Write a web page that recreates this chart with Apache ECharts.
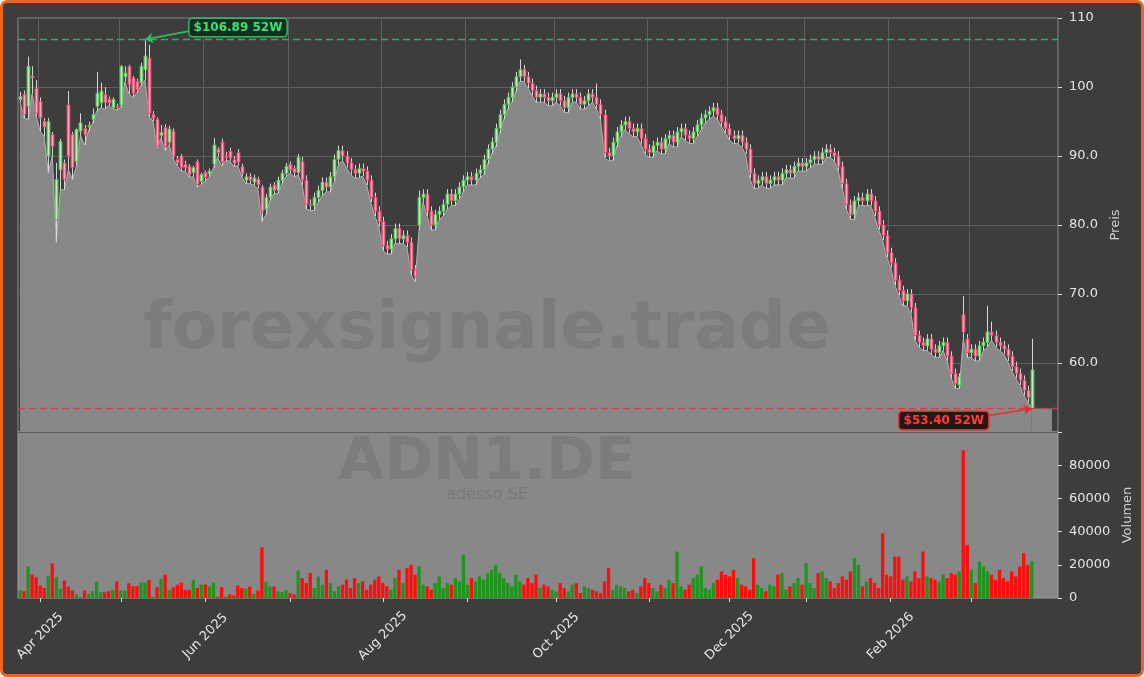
<!DOCTYPE html>
<html><head><meta charset="utf-8">
<script src="https://cdn.jsdelivr.net/npm/echarts@6/dist/echarts.min.js"></script>
<style>
html,body{margin:0;padding:0;background:#ffffff;}
#wrap{position:absolute;left:0;top:0;width:1144px;height:677px;box-sizing:border-box;border:3px solid #f0641a;border-radius:7px;background:#3d3d3d;overflow:hidden;}
#chart{position:absolute;left:-3px;top:-3px;width:1144px;height:677px;}
</style></head><body>
<div id="wrap"><div id="chart"></div></div>
<script>
const firstDay = '2025-03-25';
const xetraHolidays = ['2025-04-18','2025-04-21','2025-05-01','2025-12-24','2025-12-25','2025-12-26','2025-12-31','2026-01-01'];
const totalSlots = 258;
const monthNames = ['Jan','Feb','Mar','Apr','May','Jun','Jul','Aug','Sep','Oct','Nov','Dec'];
const priceTicks = [60, 70, 80, 90, 100, 110];
const volumeTicks = [0, 20000, 40000, 60000, 80000];
const high52 = 106.89, low52 = 53.40;

const opens = [98.2,98.9,97.2,101.6,99.8,97.9,95.0,90.0,93.1,80.8,
88.0,89.0,97.4,93.1,89.2,93.6,94.0,94.2,95.3,97.2,
97.7,98.9,98.2,97.0,97.2,97.4,101.5,103.0,101.3,100.8,
100.6,102.5,104.2,96.0,95.3,93.0,94.1,92.0,93.6,89.5,
90.0,88.8,88.5,87.6,89.2,86.3,87.6,87.4,88.8,91.0,
92.0,90.0,90.7,89.5,90.5,88.5,86.5,87.0,86.2,86.6,
85.5,82.3,84.0,85.8,85.0,86.5,87.5,88.8,88.2,87.6,
89.2,86.5,83.0,82.8,84.0,85.0,86.2,85.5,87.0,89.5,
90.8,90.0,89.0,88.0,87.5,88.2,87.8,86.5,84.0,82.0,
80.5,77.0,76.5,78.0,79.5,78.0,78.5,77.5,73.5,80.0,
84.0,84.5,82.0,80.0,81.5,82.0,83.0,84.5,83.5,84.5,
85.5,86.5,87.0,86.5,87.5,88.0,89.5,91.0,92.0,94.0,
96.0,97.5,98.5,100.0,101.5,102.5,101.5,100.5,99.5,98.5,
99.0,98.5,98.0,98.5,99.0,98.0,97.0,98.5,99.0,98.5,
97.5,98.0,99.0,98.5,97.5,96.0,90.5,90.0,92.0,93.5,
94.5,95.0,94.0,93.5,94.0,92.5,91.0,90.5,91.5,92.0,
91.0,92.5,93.0,92.0,93.5,94.0,93.0,92.5,93.5,94.5,
95.5,96.0,96.5,97.0,96.0,95.0,94.0,93.0,92.5,93.0,
92.0,91.0,87.5,86.0,86.5,87.0,86.0,86.5,87.0,86.5,
87.5,88.0,87.5,88.5,89.0,88.5,89.0,89.5,90.0,89.5,
90.5,91.0,90.5,90.0,88.5,86.0,83.0,81.5,83.5,84.0,
83.5,84.5,83.5,82.0,80.0,78.5,76.0,74.5,72.0,70.5,
69.0,70.0,68.0,64.0,63.0,62.5,63.5,62.0,61.5,62.5,
63.0,61.0,58.5,56.8,67.0,63.5,61.5,62.0,61.0,62.5,
63.0,64.5,64.0,63.0,62.5,62.0,61.0,59.5,58.5,57.5,
56.0,53.4];

const closes = [98.6,96.0,103.0,101.3,96.2,95.5,94.2,95.0,91.4,86.6,
92.1,86.6,90.0,88.3,93.8,94.8,93.1,94.4,96.0,99.1,
99.4,97.7,97.7,98.2,97.0,103.0,102.0,100.3,99.1,99.6,
103.0,104.5,96.2,95.5,91.4,93.4,91.4,93.9,90.0,89.0,
88.3,88.3,87.3,88.3,85.9,87.3,86.9,87.8,91.6,90.5,
89.1,89.8,89.7,88.9,89.1,87.5,87.0,86.5,86.8,85.8,
82.0,84.0,85.5,85.0,86.5,87.5,88.5,88.0,87.6,89.8,
86.5,83.0,82.8,84.0,85.0,86.2,85.5,87.0,89.5,90.8,
90.0,89.0,88.0,87.5,88.2,87.8,86.5,84.0,82.0,80.5,
77.0,76.5,78.0,79.5,78.0,78.5,77.5,73.5,72.5,84.0,
84.5,82.0,80.0,81.5,82.0,83.0,84.5,83.5,84.5,85.5,
86.5,87.0,86.5,87.5,88.0,89.5,91.0,92.0,94.0,96.0,
97.5,98.5,100.0,101.5,102.5,101.5,100.5,99.5,98.5,99.0,
98.5,98.0,98.5,99.0,98.0,97.0,98.5,99.0,98.5,97.5,
98.0,99.0,98.5,97.5,96.0,90.5,90.0,92.0,93.5,94.5,
95.0,94.0,93.5,94.0,92.5,91.0,90.5,91.5,92.0,91.0,
92.5,93.0,92.0,93.5,94.0,93.0,92.5,93.5,94.5,95.5,
96.0,96.5,97.0,96.0,95.0,94.0,93.0,92.5,93.0,92.0,
91.0,87.5,86.0,86.5,87.0,86.0,86.5,87.0,86.5,87.5,
88.0,87.5,88.5,89.0,88.5,89.0,89.5,90.0,89.5,90.5,
91.0,90.5,90.0,88.5,86.0,83.0,81.5,83.5,84.0,83.5,
84.5,83.5,82.0,80.0,78.5,76.0,74.5,72.0,70.5,69.0,
70.0,68.0,64.0,63.0,62.5,63.5,62.0,61.5,62.5,63.0,
61.0,58.5,57.0,58.0,64.5,61.5,62.0,61.0,62.5,63.0,
64.5,64.0,63.0,62.5,62.0,61.0,59.5,58.5,57.5,56.0,
55.0,59.0];

const highs = [99.3,99.5,104.4,103.0,101.0,98.5,95.5,95.5,93.5,89.0,
92.5,89.5,99.4,93.5,94.0,96.2,94.5,95.0,96.9,102.2,
100.6,100.0,98.6,98.5,97.6,103.2,103.0,103.2,101.6,101.2,
103.5,106.89,106.1,96.5,95.6,94.5,94.6,94.4,94.0,90.0,
90.3,89.3,88.8,88.6,89.5,87.6,87.9,88.2,92.6,91.3,
92.5,90.6,91.2,90.0,91.0,88.9,87.5,87.5,87.3,87.0,
85.8,84.5,86.0,86.2,87.0,88.0,89.0,89.2,88.6,90.3,
89.9,87.2,83.7,84.7,85.7,86.9,86.9,87.7,90.2,91.5,
91.5,90.7,89.7,88.7,88.9,88.9,88.5,87.2,84.7,82.7,
81.2,77.7,78.7,80.2,80.2,79.2,79.2,78.2,74.2,85.0,
85.2,85.2,82.7,82.2,82.7,83.7,85.2,85.2,85.2,86.2,
87.2,87.7,87.7,88.2,88.7,90.2,91.7,92.7,94.7,96.7,
98.2,99.2,100.7,102.2,104.0,103.2,102.2,101.2,100.2,99.7,
99.7,99.2,99.2,99.7,99.7,98.7,99.2,99.7,99.7,99.2,
98.7,99.7,99.7,100.5,98.2,96.7,91.2,92.7,94.2,95.2,
95.7,95.7,94.7,94.7,94.7,93.2,91.7,92.2,92.7,92.7,
93.2,93.7,93.7,94.2,94.7,94.7,93.7,94.2,95.2,96.2,
96.7,97.2,97.7,97.7,96.7,95.7,94.7,93.7,93.7,93.7,
92.7,91.7,88.2,87.2,87.7,87.7,87.2,87.7,87.7,88.2,
88.7,88.7,89.2,89.7,89.7,89.7,90.2,90.7,90.7,91.2,
91.7,91.7,91.2,90.7,89.2,86.7,83.7,84.2,84.7,84.7,
85.2,85.2,84.2,82.7,80.7,79.2,76.7,75.2,72.7,71.2,
70.7,70.7,68.7,64.7,63.7,64.2,64.2,62.7,63.2,63.7,
63.7,61.7,59.2,58.5,69.7,64.2,62.7,62.7,63.2,63.7,
68.3,66.0,64.7,63.7,63.2,62.7,61.7,60.2,59.2,58.2,
56.7,63.5];

const lows = [97.8,95.5,95.3,99.0,95.8,93.6,92.8,87.6,90.0,77.5,
85.1,85.1,88.0,86.6,88.5,93.0,91.6,93.6,94.8,96.5,
97.0,96.8,97.3,96.8,96.7,97.0,100.8,99.0,98.5,99.2,
100.2,101.0,95.8,95.0,91.2,92.6,90.8,91.6,89.6,88.6,
87.8,87.8,86.9,87.0,85.5,85.9,86.4,87.0,88.3,89.8,
88.6,89.3,89.3,88.5,88.6,87.0,86.0,86.0,85.8,85.3,
80.5,81.5,83.5,84.5,84.6,86.0,87.0,87.5,87.0,87.2,
85.8,82.3,82.1,82.1,83.3,84.3,84.8,84.8,86.3,88.8,
89.3,88.3,87.3,86.8,86.8,87.1,85.8,83.3,81.3,79.8,
76.3,75.8,75.8,77.3,77.3,77.3,76.8,72.8,71.8,79.3,
83.3,81.3,79.3,79.3,80.8,81.3,82.3,82.8,82.8,83.8,
84.8,85.8,85.8,85.8,86.8,87.3,88.8,90.3,91.3,93.3,
95.3,96.8,97.8,99.3,100.8,100.8,99.8,98.8,97.8,97.8,
97.8,97.3,97.3,97.8,97.3,96.3,96.3,97.8,97.8,96.8,
96.8,97.3,97.8,96.8,95.3,89.8,89.3,89.3,91.3,92.8,
93.8,93.3,92.8,92.8,91.8,90.3,89.8,89.8,90.8,90.3,
90.3,91.8,91.3,91.3,92.8,92.3,91.8,91.8,92.8,93.8,
94.8,95.3,95.8,95.3,94.3,93.3,92.3,91.8,91.8,91.3,
90.3,86.8,85.3,85.3,85.8,85.3,85.3,85.8,85.8,85.8,
86.8,86.8,86.8,87.8,87.8,87.8,88.3,88.8,88.8,88.8,
89.8,89.8,89.3,87.8,85.3,82.3,80.8,80.8,82.8,82.8,
82.8,82.8,81.3,79.3,77.8,75.3,73.8,71.3,69.8,68.3,
68.3,67.3,63.3,62.3,61.8,61.8,61.3,60.8,60.8,61.8,
60.3,57.8,56.3,56.3,63.5,60.8,60.8,60.3,60.3,61.8,
62.3,63.3,62.3,61.8,61.3,60.3,58.8,57.8,56.8,55.3,
54.3,53.4];

const volumes = [4500,4100,19000,14100,12500,7500,6100,13500,20900,12500,
5500,10500,6900,4500,2100,600,4500,2500,4100,9900,
3500,3500,4100,4900,9900,4500,4500,8900,7100,7100,
9300,9300,10900,600,6500,11500,14100,4900,6500,8100,
9300,4900,4900,10900,6100,8100,8100,6900,9300,600,
6500,600,2100,1500,7500,6100,5500,6900,2500,4500,
30500,9900,6900,6900,3900,3500,4900,2900,2100,16500,
12000,9000,15000,6000,13000,8000,17000,9000,4000,7000,
8000,11000,6000,12000,9000,10000,5000,8000,11000,13000,
9000,7000,5000,12000,17000,9000,18000,20000,14000,19000,
8000,7000,5000,9000,13000,6000,9000,8000,12000,10000,
26000,8000,12000,10000,13000,11000,15000,17000,20000,15000,
12000,9000,7000,14000,10000,8000,12000,9000,14000,6000,
8000,7000,5000,4000,9000,6000,4000,8000,9000,3000,
7000,6000,5000,4000,3000,10000,18000,5000,8000,7000,
6000,4000,5000,3000,7000,12000,9000,6000,4000,8000,
6000,11000,9000,28000,7000,5000,8000,12000,14000,19000,
6000,5000,9000,11000,16000,14000,13000,17000,12000,8000,
7000,5000,24000,8000,6000,4000,8000,7000,14000,15000,
5000,7000,9000,12000,8000,21000,9000,6000,15000,16000,
12000,10000,6000,9000,13000,11000,16000,24000,20000,7000,
10000,12000,9000,6000,39000,14000,13000,25000,25000,11000,
13000,10000,16000,12000,28000,13000,12000,11000,10000,14000,
12000,15000,14000,16000,89000,32000,17000,9000,22000,19000,
16000,14000,11000,17000,12000,10000,16000,13000,19000,27000,
20000,22000];

// trading-day categories
const dates = [];
{
  let t = Date.parse(firstDay + 'T00:00:00Z');
  while (dates.length < totalSlots) {
    const d = new Date(t);
    const wd = d.getUTCDay();
    const s = d.toISOString().slice(0, 10);
    if (wd !== 0 && wd !== 6 && xetraHolidays.indexOf(s) < 0) dates.push(s);
    t += 86400000;
  }
}
const isMonthStart = (i) => i > 0 && dates[i].slice(0, 7) !== dates[i - 1].slice(0, 7);
const isLabelMonth = (i) => isMonthStart(i) && (+dates[i].slice(5, 7)) % 2 === 0;
const fmtMonth = (v) => monthNames[+v.slice(5, 7) - 1] + ' ' + v.slice(0, 4);

const n = closes.length;
const candleData = closes.map((c, i) => [i, opens[i], c, lows[i], highs[i]]);
const lowLine = lows.map((l, i) => [i, l]);
const volData = volumes.map((v, i) => ({
  value: [i, v],
  itemStyle: { color: closes[i] >= opens[i] ? '#1f941f' : '#ff0d0d' }
}));
let hiIdx = 0, loIdx = 0;
highs.forEach((h, i) => { if (h > highs[hiIdx]) hiIdx = i; });
lows.forEach((l, i) => { if (l < lows[loIdx]) loIdx = i; });

const UP_EDGE = '#48c848', UP_FILL = '#c9e3c9', DN_EDGE = '#e8416b', DN_FILL = '#f6a9bb', WICK = '#d6d6d6';
function renderCandle(params, api) {
  const i = api.value(0);
  const o = api.value(1), c = api.value(2), l = api.value(3), h = api.value(4);
  const pO = api.coord([i, o]), pC = api.coord([i, c]);
  const pL = api.coord([i, l]), pH = api.coord([i, h]);
  const bw = api.size([1, 0])[0] * 0.7;
  const up = c >= o;
  const top = Math.min(pO[1], pC[1]);
  const hgt = Math.max(Math.abs(pO[1] - pC[1]), 1);
  const x = Math.round(pO[0]) + 0.5;
  return { type: 'group', children: [
    { type: 'line', shape: { x1: x, y1: pH[1], x2: x, y2: pL[1] }, style: { stroke: WICK, lineWidth: 1 } },
    { type: 'rect', shape: { x: x - bw / 2, y: top, width: bw, height: hgt },
      style: { fill: up ? UP_FILL : DN_FILL, stroke: up ? UP_EDGE : DN_EDGE, lineWidth: 1 } }
  ] };
}

const FONT = 'DejaVu Sans';
const chart = echarts.init(document.getElementById('chart'), null, { renderer: 'canvas' });
chart.setOption({
  animation: false,
  backgroundColor: 'transparent',
  textStyle: { fontFamily: FONT },
  grid: [
    { left: 18, top: 18, width: 1040, height: 414, show: true, backgroundColor: 'transparent', borderColor: '#8f8f8f', borderWidth: 1, outerBoundsMode: 'none', containLabel: false },
    { left: 18, top: 432, width: 1040, height: 166, show: true, backgroundColor: '#888888', borderColor: '#a0a0a0', borderWidth: 1, outerBoundsMode: 'none', containLabel: false }
  ],
  xAxis: [
    { type: 'category', gridIndex: 0, data: dates, boundaryGap: true,
      axisLine: { show: false }, axisTick: { show: false }, axisLabel: { show: false },
      splitLine: { show: true, interval: (i) => isMonthStart(i), lineStyle: { color: '#5e5e5e', width: 1 } } },
    { type: 'category', gridIndex: 1, data: dates, boundaryGap: true,
      axisLine: { show: false },
      axisTick: { show: true, alignWithLabel: true, interval: (i) => isMonthStart(i), length: 4, lineStyle: { color: '#dddddd' } },
      axisLabel: { show: true, interval: (i) => isLabelMonth(i), rotate: 45, margin: 38, align: 'center', verticalAlign: 'middle',
        color: '#e4e4e4', fontSize: 13, fontFamily: FONT, formatter: fmtMonth },
      splitLine: { show: false } }
  ],
  yAxis: [
    { type: 'value', gridIndex: 0, position: 'right', min: 50, max: 110, interval: 10,
      axisLine: { show: false },
      axisTick: { show: true, length: 4, lineStyle: { color: '#dddddd' } },
      axisLabel: { color: '#e4e4e4', fontSize: 13, fontFamily: FONT, margin: 11,
        formatter: (v) => priceTicks.indexOf(v) < 0 ? '' : (v >= 100 ? String(v) : v.toFixed(1)) },
      splitLine: { show: true, lineStyle: { color: '#5e5e5e', width: 1 } },
      name: 'Preis', nameLocation: 'middle', nameRotate: 90, nameGap: 45,
      nameTextStyle: { color: '#cfcfcf', fontSize: 13, fontFamily: FONT } },
    { type: 'value', gridIndex: 1, position: 'right', min: 0, max: 100000, interval: 20000,
      axisLine: { show: false },
      axisTick: { show: true, length: 4, lineStyle: { color: '#dddddd' } },
      axisLabel: { color: '#e4e4e4', fontSize: 13, fontFamily: FONT, margin: 11,
        formatter: (v) => volumeTicks.indexOf(v) < 0 ? '' : String(v) },
      splitLine: { show: false },
      name: 'Volumen', nameLocation: 'middle', nameRotate: 90, nameGap: 55,
      nameTextStyle: { color: '#cfcfcf', fontSize: 13, fontFamily: FONT } }
  ],
  series: [
    { type: 'line', xAxisIndex: 0, yAxisIndex: 0, data: lowLine, symbol: 'none', z: 2,
      lineStyle: { color: '#b4b4b4', width: 1 },
      areaStyle: { color: '#888888', opacity: 1 },
      markArea: { silent: true, itemStyle: { color: '#888888' },
        data: [[{ coord: [n - 1, low52] }, { coord: [n + 4, 50] }]] },
      markLine: { silent: true, symbol: 'none', label: { show: false },
        data: [
          { yAxis: high52, lineStyle: { color: '#2fb865', type: [7, 4], width: 1.4, opacity: 0.9 } },
          { yAxis: low52, lineStyle: { color: '#e03838', type: [7, 4], width: 1.4, opacity: 0.9 } },
          [{ coord: [hiIdx + 11, 108.1], symbol: 'none' }, { coord: [hiIdx, high52], symbol: 'arrow', symbolSize: 8,
            lineStyle: { color: '#2fc060', type: 'solid', width: 1.6 } }],
          [{ coord: [loIdx - 11, 52.35], symbol: 'none' }, { coord: [loIdx, low52], symbol: 'arrow', symbolSize: 8,
            lineStyle: { color: '#e53030', type: 'solid', width: 1.6 } }]
        ] },
      markPoint: { silent: true, symbol: 'circle', symbolSize: 0,
        data: [
          { coord: [hiIdx, high52], label: { show: true, offset: [93, -12], formatter: '$' + high52.toFixed(2) + ' 52W',
              color: '#3ee07a', fontWeight: 'bold', fontSize: 12, fontFamily: FONT,
              backgroundColor: '#12301c', borderColor: '#2fb865', borderWidth: 1.5, borderRadius: 3, padding: [3, 4, 2, 4] } },
          { coord: [loIdx, low52], label: { show: true, offset: [-88, 12], formatter: '$' + low52.toFixed(2) + ' 52W',
              color: '#ff3b3b', fontWeight: 'bold', fontSize: 12, fontFamily: FONT,
              backgroundColor: '#2a1414', borderColor: '#d83030', borderWidth: 1.5, borderRadius: 3, padding: [3, 4, 2, 4] } }
        ] } },
    { type: 'custom', xAxisIndex: 0, yAxisIndex: 0, data: candleData, renderItem: renderCandle, z: 3,
      encode: { x: 0, y: [1, 2, 3, 4] } },
    { type: 'bar', xAxisIndex: 1, yAxisIndex: 1, data: volData, barWidth: '82%', z: 2 }
  ],
  graphic: [
    { type: 'text', z: 50, silent: true,
      style: { text: 'forexsignale.trade', x: 487, y: 331, align: 'center', verticalAlign: 'middle',
        font: 'bold 66px "DejaVu Sans"', fill: 'rgba(0,0,0,0.085)' } },
    { type: 'text', z: 50, silent: true,
      style: { text: 'ADN1.DE', x: 487, y: 464, align: 'center', verticalAlign: 'middle',
        font: 'bold 59px "DejaVu Sans"', fill: 'rgba(0,0,0,0.085)' } },
    { type: 'text', z: 50, silent: true,
      style: { text: 'adesso SE', x: 487, y: 495, align: 'center', verticalAlign: 'middle',
        font: '16px "DejaVu Sans"', fill: 'rgba(0,0,0,0.12)' } }
  ]
});
</script>
</body></html>
